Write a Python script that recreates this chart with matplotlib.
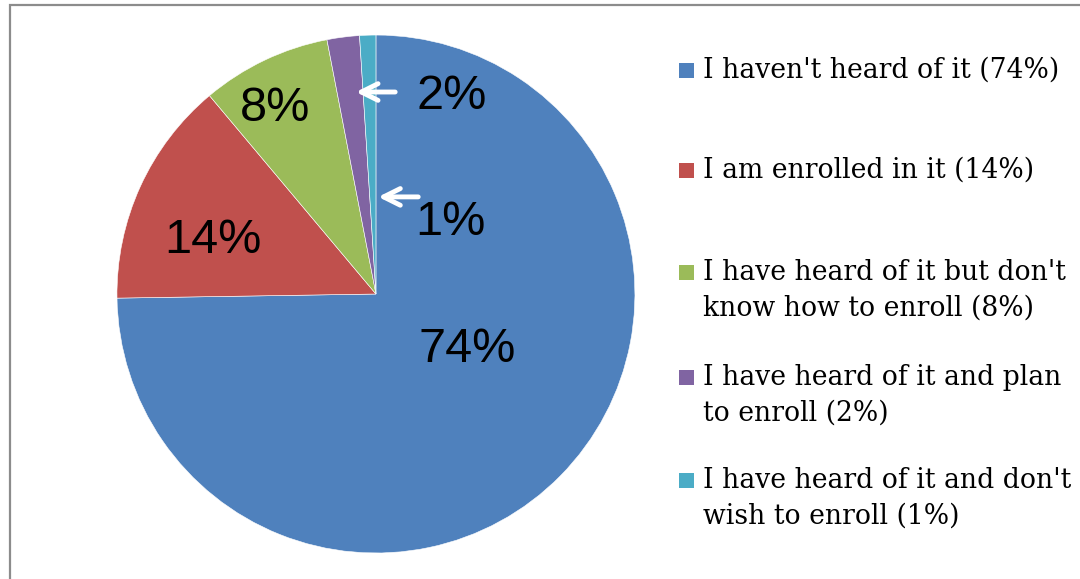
import matplotlib
matplotlib.use('Agg')
import matplotlib.pyplot as plt
from matplotlib.patches import Rectangle

labels = ["I haven't heard of it (74%)",
          "I am enrolled in it (14%)",
          "I have heard of it but don't\nknow how to enroll (8%)",
          "I have heard of it and plan\nto enroll (2%)",
          "I have heard of it and don't\nwish to enroll (1%)"]
values = [74, 14, 8, 2, 1]
pct_text = ['74%', '14%', '8%', '2%', '1%']
colors = ['#4F81BD', '#C0504D', '#9BBB59', '#8064A2', '#4BACC6']

# label positions in pie data coords (radius 1)
label_pos = [(0.351, -0.216), (-0.629, 0.208), (-0.39, 0.718), (0.293, 0.764), (0.286, 0.278)]

fig = plt.figure(figsize=(10.8, 5.79), dpi=100)
fig.patches.append(Rectangle((10 / 1080, -0.1), 1.2, 1.1 - 5 / 579, transform=fig.transFigure,
                             fill=False, edgecolor='#8c8c8c', linewidth=1.6))

ax = fig.add_axes([0.1083, 0.0449, 0.4796, 0.8946])
ax.pie(values, colors=colors, startangle=90, counterclock=False,
       wedgeprops=dict(edgecolor='white', linewidth=0.4))
ax.set_xlim(-1, 1)
ax.set_ylim(-1, 1)
ax.set_aspect('equal')
ax.axis('off')

for txt, (x, y) in zip(pct_text, label_pos):
    ax.text(x, y, txt, fontsize=35, family='Liberation Sans', ha='center', va='center')

# white arrows pointing at the two thin slices
ax.annotate('', xy=(-0.088, 0.780), xytext=(0.085, 0.780),
            arrowprops=dict(arrowstyle='->', color='white', lw=3.5, mutation_scale=30))
ax.annotate('', xy=(-0.002, 0.375), xytext=(0.174, 0.375),
            arrowprops=dict(arrowstyle='->', color='white', lw=3.5, mutation_scale=30))

# legend
leg_y = [70, 170, 272, 377, 480]
for lab, c, y in zip(labels, colors, leg_y):
    fig.patches.append(Rectangle((679 / 1080, 1 - (y + 8) / 579), 15 / 1080, 15 / 579,
                                 transform=fig.transFigure, facecolor=c, edgecolor='none'))
    fig.text(703 / 1080, 1 - (y - 13) / 579, lab, fontsize=19.2, family='DejaVu Serif',
             ha='left', va='top', linespacing=1.43)

fig.savefig('out.png', dpi=100)
